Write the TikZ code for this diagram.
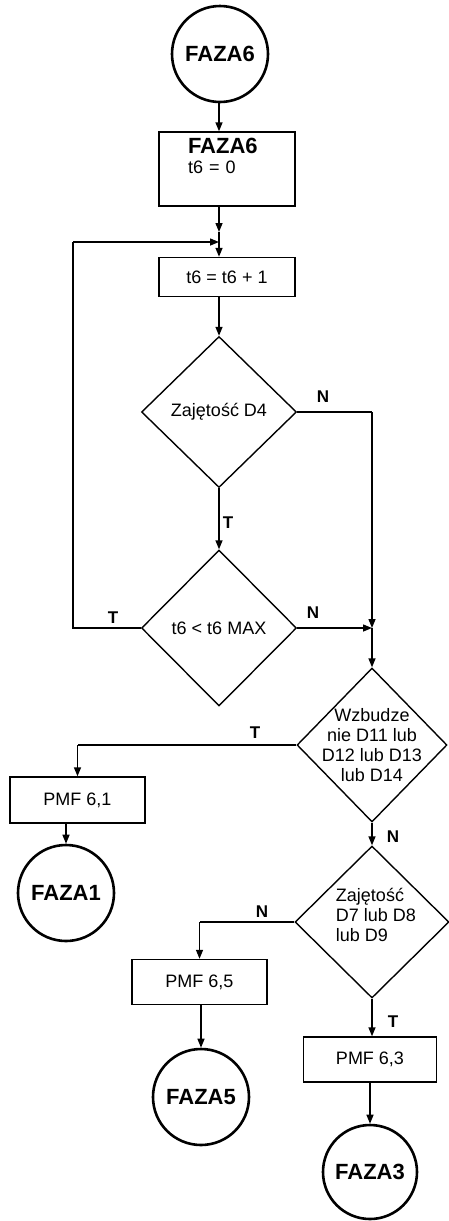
\documentclass[tikz,border=0pt]{standalone}
\usepackage{fontspec}
\setmainfont{Liberation Sans}
\usetikzlibrary{shapes.geometric,arrows.meta,calc}
\begin{document}
\begin{tikzpicture}[x=1pt,y=-1pt,
  txt/.style={font=\fontsize{18}{20}\selectfont},
  lbl/.style={font=\fontsize{17}{20}\selectfont\bfseries},
  term/.style={circle,draw,line width=2.6pt,minimum size=96pt,inner sep=0pt,font=\fontsize{22}{24}\selectfont\bfseries},
  procbox/.style={rectangle,draw,line width=1.4pt,inner sep=0pt,txt},
  decision/.style={diamond,draw,line width=1.4pt,inner sep=0pt},
  dtext/.style={txt,align=center,inner sep=0pt},
  arr/.style={line width=1.4pt,-{Triangle[length=9pt,width=7pt]}},
  ln/.style={line width=1.4pt}]
\useasboundingbox (0,0) rectangle (448,1221);
% nodes
\node[term] (c6) at (220,54) {FAZA6};
\node[procbox,minimum width=136pt,minimum height=74pt,align=left,text width=78pt] (b1) at (227,169)
  {{\fontsize{22}{22}\selectfont\bfseries FAZA6}\\t6 = 0\\ \strut};
\node[procbox,minimum width=136pt,minimum height=39pt] (b2) at (227,277) {t6 = t6 + 1};
\node[decision,minimum width=155pt,minimum height=151pt] (d1) at (219,412) {};
\node[dtext] (d1t) at (d1.center) {Zajętość D4};
\node[decision,minimum width=155pt,minimum height=156pt] (d2) at (219,628) {};
\node[dtext] (d2t) at (d2.center) {t6 < t6 MAX};
\node[decision,minimum width=150pt,minimum height=154pt] (d3) at (372,745) {};
\node[dtext] (d3t) at (d3.center) {Wzbudze\\nie D11 lub\\D12 lub D13\\lub D14};
\node[decision,minimum width=154pt,minimum height=152pt] (d4) at (372,922) {};
\node[dtext,align=left] (d4t) at (376,915) {Zajętość\\D7 lub D8\\lub D9};
\node[procbox,minimum width=135pt,minimum height=46pt] (b61) at (77.5,800) {PMF 6,1};
\node[term] (c1) at (66,893) {FAZA1};
\node[procbox,minimum width=135pt,minimum height=45pt] (b65) at (199.5,982) {PMF 6,5};
\node[term] (c5) at (201,1097) {FAZA5};
\node[procbox,minimum width=133pt,minimum height=45pt] (b63) at (370,1059.5) {PMF 6,3};
\node[term,minimum size=94pt] (c3) at (370,1172) {FAZA3};
\coordinate (j1) at (219,232);
\coordinate (jin) at (219,242);
\coordinate (loopc) at (73,242);
\coordinate (jr) at (372,628);
% connectors
\draw[arr] (c6.south -| j1) -- (j1 |- b1.north);
\draw[arr] (b1.south -| j1) -- (j1);
\draw[arr] (j1) -- (b2.north -| j1);
\draw[arr] (b2.south -| d1.north) -- (d1.north);
\draw[arr] (d1.south) -- (d2.north);
\draw[ln] (d1.east) -- (d1.east -| jr);
\draw[arr] (d1.east -| jr) -- (jr);
\draw[arr] (d2.east) -- (jr);
\draw[arr] (jr) -- (d3.north);
\draw[ln] (d2.west) -- (d2.west -| loopc) -- (loopc);
\draw[arr] (loopc) -- (jin);
\draw[ln] (d3.west) -- (d3.west -| b61.north);
\draw[arr] (d3.west -| b61.north) -- (b61.north);
\draw[arr] (b61.south -| c1.north) -- (c1.north);
\draw[arr] (d3.south) -- (d4.north);
\draw[ln] (d4.west) -- (d4.west -| b65.north);
\draw[arr] (d4.west -| b65.north) -- (b65.north);
\draw[arr] (b65.south -| c5.north) -- (c5.north);
\draw[arr] (d4.south) -- (d4.south |- b63.north);
\draw[arr] (b63.south -| c3.north) -- (c3.north);
% labels
\node[lbl] (l1) at (323,397) {N};
\node[lbl] (l2) at (228,523) {T};
\node[lbl] (l3) at (113,618) {T};
\node[lbl] (l4) at (313,613) {N};
\node[lbl] (l5) at (255,733) {T};
\node[lbl] (l6) at (393,837) {N};
\node[lbl] (l7) at (262,912) {N};
\node[lbl] (l8) at (393,1022) {T};
\end{tikzpicture}
\end{document}
